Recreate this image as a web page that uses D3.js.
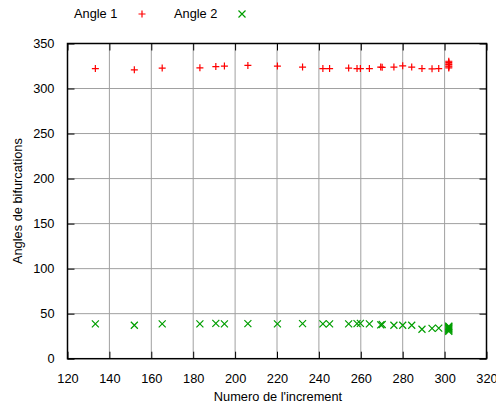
<!DOCTYPE html>
<html>
<head>
<meta charset="utf-8">
<script src="https://cdnjs.cloudflare.com/ajax/libs/d3/7.8.5/d3.min.js"></script>
<style>
  body { margin: 0; background: #fff; }
  text { font-family: "Liberation Sans", Arial, sans-serif; font-size: 12.8px; fill: #000; }
</style>
</head>
<body>
<div id="chart"></div>
<script>
// increments (x) shared by both series
var increments = [133.3, 151.9, 165.2, 183.2, 190.8, 194.9, 206.1, 220.2, 232.2, 241.9,
                  245.1, 254.2, 258.2, 259.8, 264.1, 269.5, 270.2, 275.8, 280.0, 284.3,
                  289.2, 294.0, 297.2, 302, 302, 302, 302, 302, 302, 302];
var angle1 = [322.2, 320.8, 322.7, 323.0, 324.4, 324.9, 325.6, 324.9, 323.8, 322.2,
              322.2, 322.7, 322.2, 322.2, 322.2, 323.8, 323.5, 323.8, 325.2, 323.8,
              322.2, 321.9, 322.2, 322.8, 324, 325, 326.5, 327.5, 329, 330.3];
var angle2 = [38.6, 37.1, 38.6, 38.6, 39.3, 38.6, 38.9, 38.6, 38.9, 38.6,
              38.6, 38.6, 38.9, 39.3, 38.6, 37.5, 38.0, 37.1, 37.1, 37.1,
              32.7, 33.7, 34.0, 30.3, 31.5, 32.5, 33.5, 34.5, 35.5, 36.1];
var xTicks = [120, 140, 160, 180, 200, 220, 240, 260, 280, 300, 320];
var yTicks = [0, 50, 100, 150, 200, 250, 300, 350];
var seriesNames = ["Angle 1", "Angle 2"];

var width = 496, height = 407;
var plotLeft = 67.5, plotRight = 486.5, plotTop = 43.5, plotBottom = 358.7;

var svg = d3.select("#chart").append("svg")
  .attr("width", width)
  .attr("height", height);

var x = d3.scaleLinear().domain([120, 320]).range([plotLeft, plotRight]);
var y = d3.scaleLinear().domain([0, 350]).range([plotBottom, plotTop]);

// grid
svg.append("g").selectAll("line").data(xTicks.slice(1, -1)).enter().append("line")
  .attr("x1", d => x(d)).attr("x2", d => x(d))
  .attr("y1", plotTop).attr("y2", plotBottom)
  .attr("stroke", "#a0a0a0").attr("stroke-width", 1);
svg.append("g").selectAll("line").data(yTicks.slice(1, -1)).enter().append("line")
  .attr("x1", plotLeft).attr("x2", plotRight)
  .attr("y1", d => y(d)).attr("y2", d => y(d))
  .attr("stroke", "#a0a0a0").attr("stroke-width", 1);

// axes with inward ticks, mirrored
var tick = 7;
var xAxis = svg.append("g").attr("transform", "translate(0," + plotBottom + ")")
  .call(d3.axisBottom(x).tickValues(xTicks).tickSizeInner(-tick).tickSizeOuter(0).tickPadding(tick + 8));
var xAxisTop = svg.append("g").attr("transform", "translate(0," + plotTop + ")")
  .call(d3.axisTop(x).tickValues(xTicks).tickSizeInner(-tick).tickSizeOuter(0).tickFormat(""));
var yAxis = svg.append("g").attr("transform", "translate(" + plotLeft + ",0)")
  .call(d3.axisLeft(y).tickValues(yTicks).tickSizeInner(-tick).tickSizeOuter(0).tickPadding(tick + 6));
var yAxisRight = svg.append("g").attr("transform", "translate(" + plotRight + ",0)")
  .call(d3.axisRight(y).tickValues(yTicks).tickSizeInner(-tick).tickSizeOuter(0).tickFormat(""));

[xAxis, xAxisTop, yAxis, yAxisRight].forEach(function(a) {
  a.select(".domain").remove();
  a.selectAll(".tick line").attr("stroke", "#000").attr("stroke-width", 1);
  a.selectAll("text").attr("font-size", null).attr("font-family", null);
});

// frame
svg.append("rect")
  .attr("x", plotLeft).attr("y", plotTop)
  .attr("width", plotRight - plotLeft).attr("height", plotBottom - plotTop)
  .attr("fill", "none").attr("stroke", "#000").attr("stroke-width", 1.5);

// axis titles
svg.append("text")
  .attr("x", (plotLeft + plotRight) / 2 + 1).attr("y", 401)
  .attr("text-anchor", "middle")
  .text("Numero de l'increment");
svg.append("text")
  .attr("transform", "translate(22," + (plotTop + plotBottom) / 2 + ") rotate(-90)")
  .attr("text-anchor", "middle")
  .text("Angles de bifurcations");

var points = increments.map(function(d, i) { return {x: d, a1: angle1[i], a2: angle2[i]}; });
var s = 3.5;

function plus(g, cx, cy, color) {
  g.append("path")
    .attr("d", "M" + (cx - s) + "," + cy + "H" + (cx + s) + "M" + cx + "," + (cy - s) + "V" + (cy + s))
    .attr("stroke", color).attr("stroke-width", 1.2).attr("fill", "none");
}
function cross(g, cx, cy, color) {
  g.append("path")
    .attr("d", "M" + (cx - s) + "," + (cy - s) + "L" + (cx + s) + "," + (cy + s) +
               "M" + (cx - s) + "," + (cy + s) + "L" + (cx + s) + "," + (cy - s))
    .attr("stroke", color).attr("stroke-width", 1.2).attr("fill", "none");
}

var red = "#ff0000", green = "#009e00";
var g1 = svg.append("g");
var g2 = svg.append("g");
points.forEach(function(p) {
  plus(g1, x(p.x), y(p.a1), red);
  cross(g2, x(p.x), y(p.a2), green);
});

// legend
var legend = svg.append("g");
legend.append("text").attr("x", 74).attr("y", 18).text(seriesNames[0]);
plus(legend, 142, 14, red);
legend.append("text").attr("x", 174).attr("y", 18).text(seriesNames[1]);
cross(legend, 242, 14, green);
</script>
</body>
</html>
